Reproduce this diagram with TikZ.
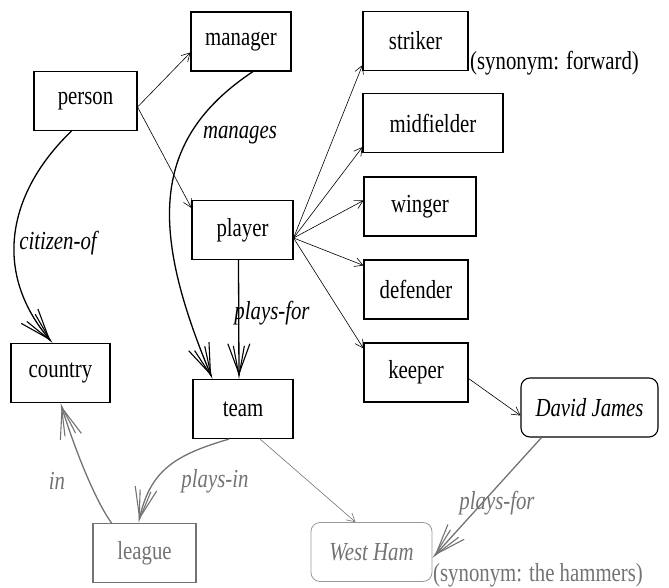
\documentclass[tikz,border=0pt]{standalone}
\usepackage{fontspec}
\setmainfont{Liberation Serif}[FakeStretch=0.8]
\usetikzlibrary{arrows.meta}
\definecolor{faded}{gray}{0.45}
\definecolor{pale}{gray}{0.6}
\begin{document}
\begin{tikzpicture}[x=1pt,y=-1pt,
  font=\fontsize{26}{29}\selectfont,
  box/.style={draw,line width=1.1pt,inner sep=0pt,minimum height=59pt},
  inst/.style={box,rounded corners=9pt,font=\fontsize{26}{29}\selectfont\itshape},
  rel/.style={font=\fontsize{26}{29}\selectfont\itshape},
  thin/.style={line width=0.6pt,-{Straight Barb[length=8pt,width=9pt]}},
  strong/.style={line width=1.3pt,-{Straight Barb[length=30pt,width=22pt,line width=1.1pt,sep=-30pt]
      Straight Barb[length=30pt,width=11pt,line width=1.1pt]}},
  greyed/.style={draw=faded,text=faded}]
\useasboundingbox (0,0) rectangle (669,588);
% concept boxes
\node[box,minimum width=100pt] (manager) at (241,41.5) {manager};
\node[box,minimum width=103pt] (person) at (85.5,101) {person};
\node[box,minimum width=101pt] (player) at (242.5,230) {player};
\node[box,minimum width=99pt] (country) at (60.5,373) {country};
\node[box,minimum width=100pt] (team) at (243,409) {team};
\node[box,minimum width=105pt] (striker) at (415.5,41) {striker};
\node[box,minimum width=140pt] (midfielder) at (433,123) {midfielder};
\node[box,minimum width=112pt] (winger) at (420,206.5) {winger};
\node[box,minimum width=104pt] (defender) at (416,289.5) {defender};
\node[box,minimum width=104pt] (keeper) at (416,372.5) {keeper};
\node[box,greyed,minimum width=103pt] (league) at (144.5,553) {league};
% instances
\node[inst,minimum width=137pt] (james) at (589.5,407.5) {David James};
\node[inst,draw=pale,text=faded,line width=0.8pt,minimum width=121pt] (westham) at (371.5,552) {West Ham};
% synonym notes
\node[anchor=west,inner sep=0pt] (synfwd) at (470,63) {(synonym: forward)};
\node[anchor=west,inner sep=0pt,text=faded] (synham) at (433,575) {(synonym: the hammers)};
% subclass links
\draw[thin] ([yshift=-6pt]person.east) -- ([yshift=-11pt]manager.west);
\draw[thin] ([yshift=-6pt]person.east) -- ([yshift=-8pt]player.north west);
\draw[thin] ([yshift=-8pt]player.east) -- ([yshift=6pt]striker.south west);
\draw[thin] ([yshift=-8pt]player.east) -- ([yshift=6pt]midfielder.south west);
\draw[thin] ([yshift=-8pt]player.east) -- ([yshift=6pt]winger.west);
\draw[thin] ([yshift=-8pt]player.east) -- ([yshift=-6pt]defender.north west);
\draw[thin] ([yshift=-8pt]player.east) -- ([yshift=-6pt]keeper.north west);
\draw[thin] ([yshift=-6pt]keeper.east) -- ([yshift=-8pt]james.west);
\draw[thin,draw=faded] ([xshift=17pt]team.south) -- ([xshift=-16pt]westham.north);
% relations
\draw[strong] ([xshift=12pt]manager.south)
  .. controls (150,140) and (150,230) .. ([xshift=20pt]team.north west);
\node[rel] (manages) at (240,135) {manages};
\draw[strong] ([xshift=-14pt]person.south)
  .. controls (10,190) and (-10,270) .. ([xshift=-8pt]country.north);
\node[rel] (citizen) at (58,243) {citizen-of};
\draw[strong] ([xshift=-4pt]player.south) -- ([xshift=-4pt]team.north);
\node[rel] (playsfor) at (272,313) {plays-for};
\draw[strong,draw=faded] ([xshift=-14pt]team.south)
  .. controls (175,455) and (150,470) .. ([xshift=-6pt]league.north);
\node[rel,text=faded] (playsin) at (215,481) {plays-in};
\draw[strong,draw=faded] ([xshift=-33pt]league.north)
  .. controls (95,500) and (75,450) .. (country.south);
\node[rel,text=faded] (in) at (57,481) {in};
\draw[strong,draw=faded] ([xshift=-48pt]james.south) -- ([yshift=-6pt]westham.east);
\node[rel,text=faded] (playsfor2) at (497,503) {plays-for};
\end{tikzpicture}
\end{document}
